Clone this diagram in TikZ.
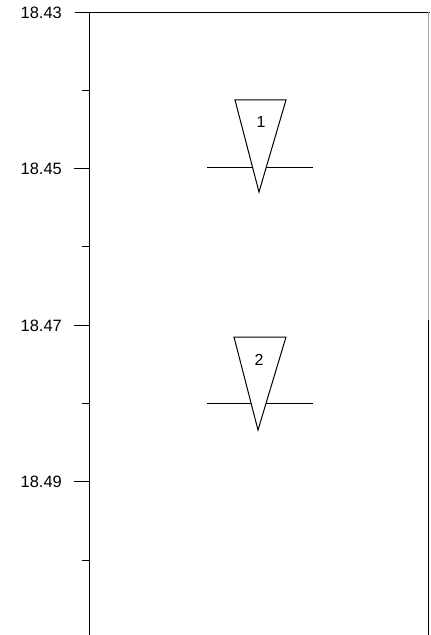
\documentclass[tikz,border=0pt]{standalone}
\usepackage{fontspec}
\setmainfont{Liberation Sans}
\begin{document}
\begin{tikzpicture}[x=1bp,y=-1bp,
  axislbl/.style={anchor=east,inner sep=0pt,font=\fontsize{16.5}{18}\selectfont},
  trilbl/.style={inner sep=0pt,font=\fontsize{16}{18}\selectfont},
  majortick/.style={line width=0.8bp},
  minortick/.style={line width=0.8bp},
  level/.style={line width=1bp},
  wedge/.style={line width=1bp,fill=white,line join=miter}]
\useasboundingbox (0,0) rectangle (430,635);
% frame
\draw[line width=1bp] (75,12.5) -- (430,12.5);
\draw[line width=1.4bp] (89.5,12) -- (89.5,635);
\draw[line width=0.8bp,black!35] (428.8,12) -- (428.8,320);
\draw[line width=1.2bp] (428.8,320) -- (428.8,635);
% ticks
\foreach \yy in {168.5,325.5,481.5} \draw[majortick] (74,\yy) -- (89.5,\yy);
\foreach \yy in {90,246.5,403,560} \draw[minortick] (82,\yy) -- (89.5,\yy);
% labels
\node[axislbl] (l43) at (62,12.5) {18.43};
\node[axislbl] (l45) at (62,168.5) {18.45};
\node[axislbl] (l47) at (62,325.5) {18.47};
\node[axislbl] (l49) at (62,481.5) {18.49};
% marker 1
\coordinate (a1) at (207,168);
\coordinate (b1) at (313,168);
\draw[level] (a1) -- (b1);
\draw[wedge] (235,100) -- (286,100) -- (259,192) -- cycle;
\node[trilbl] (t1) at (261,122) {1};
% marker 2
\coordinate (a2) at (207,403.5);
\coordinate (b2) at (313,403.5);
\draw[level] (a2) -- (b2);
\draw[wedge] (234,337) -- (286,337) -- (258,430) -- cycle;
\node[trilbl] (t2) at (259,360) {2};
\end{tikzpicture}
\end{document}
